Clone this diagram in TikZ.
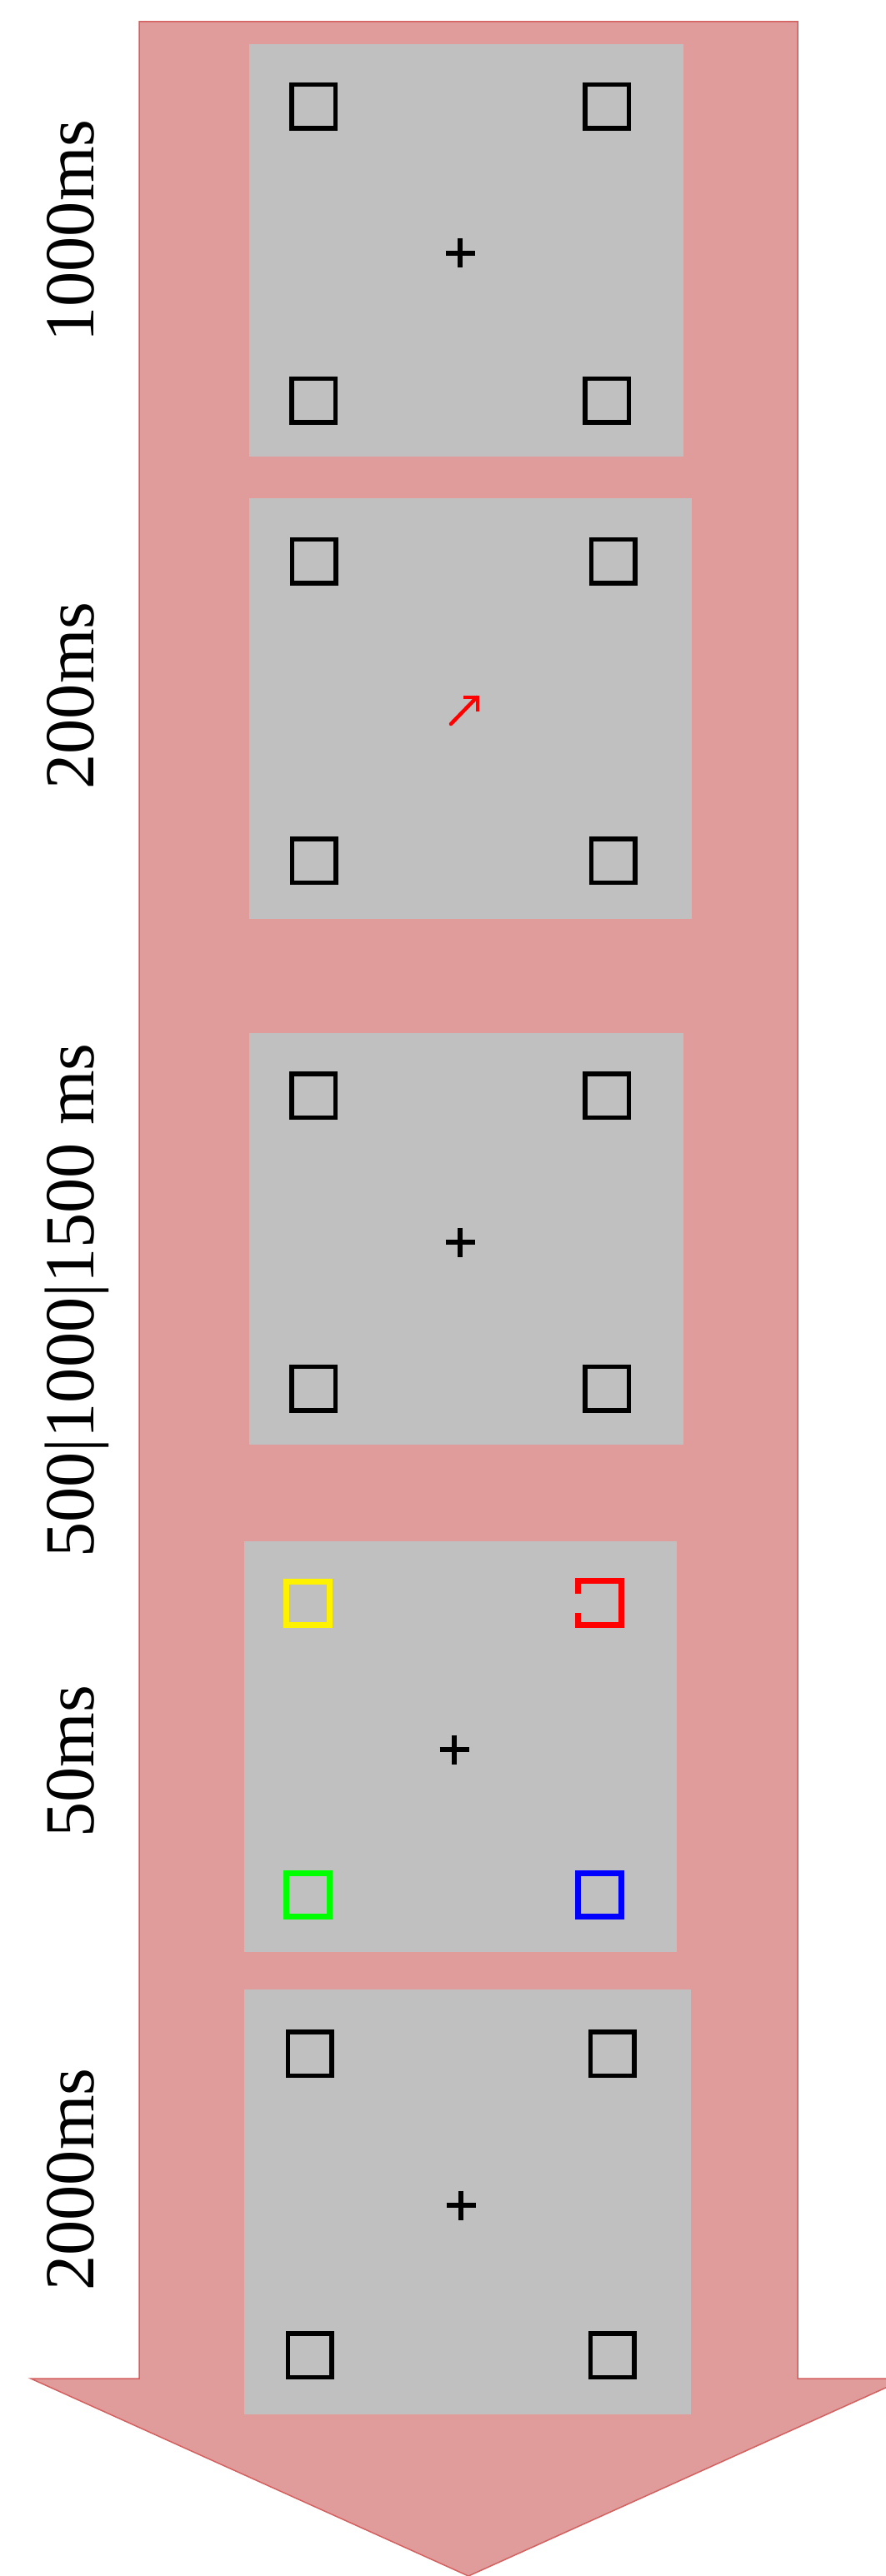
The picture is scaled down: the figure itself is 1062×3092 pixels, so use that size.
\documentclass[tikz,border=0pt]{standalone}
\usepackage{fontspec}
\setmainfont{Liberation Serif}
\definecolor{arrowfill}{RGB}{224,156,154}
\definecolor{arrowline}{RGB}{212,96,96}
\definecolor{screengray}{RGB}{192,192,192}
\begin{document}
\begin{tikzpicture}[x=0.01cm,y=-0.01cm,
  screen/.style={fill=screengray,draw=none},
  holder/.style={line width=0.055cm},
  cue/.style={line width=0.07cm},
  fix/.style={line width=0.055cm},
  dur/.style={rotate=90,anchor=base,font=\fontsize{24}{24}\selectfont}]
\useasboundingbox (0,0) rectangle (1062,3092);

% time arrow
\draw[draw=arrowline,fill=arrowfill,line width=0.015cm] (167,26) -- (957,26) -- (957,2855) -- (1087,2855) -- (562,3092) -- (37,2855) -- (167,2855) -- cycle;

% screens
\fill[screen] (299,53) rectangle (820,548);
\fill[screen] (299,598) rectangle (830,1103);
\fill[screen] (299,1240) rectangle (820,1734);
\fill[screen] (293,1850) rectangle (812,2343);
\fill[screen] (293,2388) rectangle (829,2898);

% durations
\node[dur] (t1) at (112,277) {1000ms};
\node[dur] (t2) at (112,835) {200ms};
\node[dur] (t3) at (112,1561) {500|1000|1500 ms};
\node[dur] (t4) at (112,2114) {50ms};
\node[dur] (t5) at (112,2616) {2000ms};

% placeholders
\foreach \x/\y in {376/128,728/128,376/481,728/481,
                   376.5/674,735.5/674,376.5/1033,735.5/1033,
                   376/1315,728/1315,376/1666.5,728/1666.5,
                   371.5/2465,734.5/2465,371.5/2827,734.5/2827}
  \draw[holder] (\x-26.25,\y-26.25) rectangle (\x+26.25,\y+26.25);

% fixation crosses
\foreach \x/\y in {552/304,552/1491,545/2100,553/2647}
  \draw[fix] (\x-17.5,\y) -- (\x+17.5,\y) (\x,\y-17.5) -- (\x,\y+17.5);

% cue
\draw[red,line width=0.045cm,line cap=round] (541,869) -- (572,837);
\draw[red,line width=0.045cm] (556,837) -- (573,837) -- (573,854);

% target display
\draw[cue,yellow] (343.5,1898.5) rectangle (395.5,1950.5);
\draw[cue,green] (343.5,2248.5) rectangle (395.5,2300.5);
\draw[cue,blue] (693.5,2248.5) rectangle (745.5,2300.5);
\draw[cue,red] (693.5,1913) -- (693.5,1897.5) -- (745.5,1897.5) -- (745.5,1950.5) -- (693.5,1950.5) -- (693.5,1936);
\end{tikzpicture}
\end{document}
